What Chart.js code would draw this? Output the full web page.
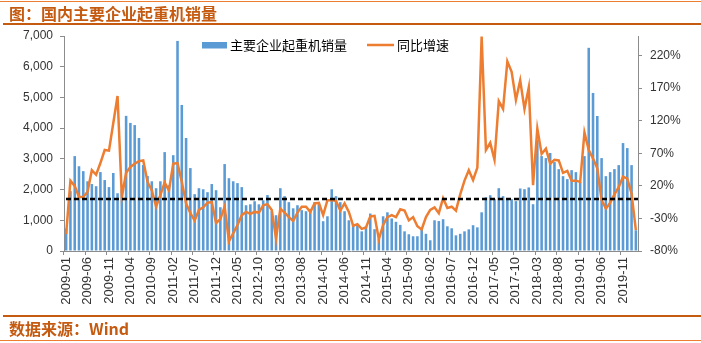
<!DOCTYPE html>
<html lang="zh">
<head>
    <meta charset="UTF-8">
    <title>国内主要企业起重机销量</title>
    <script src="https://cdn.jsdelivr.net/npm/chart.js"></script>
    <style>
        body {
            margin: 0;
            width: 701px;
            height: 343px;
            position: relative;
            overflow: hidden;
            background: #fff;
            font-family: 'Noto Sans CJK SC', sans-serif;
        }
        canvas { position: absolute; left: 0; top: 0; }
        .line-thin { position: absolute; left: 0; width: 701px; height: 1px; background: #ED7D31; }
        .line-thick { position: absolute; left: 3px; width: 698px; height: 2px; background: #C55A11; }
        .caption {
            position: absolute;
            left: 9px;
            font-size: 16px;
            font-weight: bold;
            color: #C55A11;
            line-height: 20px;
            white-space: nowrap;
        }
    </style>
</head>
<body>
    <canvas id="chart" width="701" height="343"></canvas>
    <div class="line-thin" style="top:1px"></div>
    <div class="caption" style="top:3px">图：国内主要企业起重机销量</div>
    <div class="line-thick" style="top:23px"></div>
    <div class="line-thick" style="top:315px"></div>
    <div class="caption" style="top:318px">数据来源：Wind</div>
    <div class="line-thin" style="top:340px"></div>

    <script>
        // 月份（2009-01 至 2020-02）
        const months = [
            '2009-01','2009-02','2009-03','2009-04','2009-05','2009-06','2009-07','2009-08','2009-09','2009-10','2009-11','2009-12',
            '2010-01','2010-02','2010-03','2010-04','2010-05','2010-06','2010-07','2010-08','2010-09','2010-10','2010-11','2010-12',
            '2011-01','2011-02','2011-03','2011-04','2011-05','2011-06','2011-07','2011-08','2011-09','2011-10','2011-11','2011-12',
            '2012-01','2012-02','2012-03','2012-04','2012-05','2012-06','2012-07','2012-08','2012-09','2012-10','2012-11','2012-12',
            '2013-01','2013-02','2013-03','2013-04','2013-05','2013-06','2013-07','2013-08','2013-09','2013-10','2013-11','2013-12',
            '2014-01','2014-02','2014-03','2014-04','2014-05','2014-06','2014-07','2014-08','2014-09','2014-10','2014-11','2014-12',
            '2015-01','2015-02','2015-03','2015-04','2015-05','2015-06','2015-07','2015-08','2015-09','2015-10','2015-11','2015-12',
            '2016-01','2016-02','2016-03','2016-04','2016-05','2016-06','2016-07','2016-08','2016-09','2016-10','2016-11','2016-12',
            '2017-01','2017-02','2017-03','2017-04','2017-05','2017-06','2017-07','2017-08','2017-09','2017-10','2017-11','2017-12',
            '2018-01','2018-02','2018-03','2018-04','2018-05','2018-06','2018-07','2018-08','2018-09','2018-10','2018-11','2018-12',
            '2019-01','2019-02','2019-03','2019-04','2019-05','2019-06','2019-07','2019-08','2019-09','2019-10','2019-11','2019-12',
            '2020-01','2020-02'
        ];

        // x 轴上显示的标签
        const shownLabels = [
            '2009-01','2009-06','2009-11','2010-04','2010-09','2011-02','2011-07','2011-12','2012-05',
            '2012-10','2013-03','2013-08','2014-01','2014-06','2014-11','2015-04','2015-09','2016-02',
            '2016-07','2016-12','2017-05','2017-10','2018-03','2018-08','2019-01','2019-06','2019-11'
        ];

        // 主要企业起重机销量（台）
        const sales = [
            730, 1950, 3090, 2760, 2600, 2270, 2180, 2110, 2570, 2310,
            2080, 2540, 1880, 2000, 4400, 4170, 4100, 3680, 2800, 2440,
            2270, 2045, 2270, 3220, 2140, 3120, 6840, 4755, 3680, 2700,
            1850, 2045, 2010, 1915, 2180, 1980, 1425, 2830, 2370, 2270,
            2210, 2080, 1490, 1520, 1620, 1520, 1650, 1820, 1295, 1165,
            2045, 1785, 1590, 1390, 1490, 1330, 1295, 1360, 1590, 1555,
            970, 1130, 2010, 1785, 1590, 1295, 1000, 860, 840, 640,
            800, 1220, 710, 400, 1130, 1260, 1060, 950, 850, 640,
            545, 480, 480, 750, 560, 350, 1000, 975, 1035, 805,
            740, 510, 560, 640, 705, 840, 770, 1260, 1750, 1815,
            1690, 2045, 1785, 1720, 1686, 1625, 2035, 2013, 2070, 1523,
            3610, 3090, 3025, 3190, 2895, 2665, 2437, 2340, 2633, 2568,
            2241, 3090, 6615, 5146, 4396, 3025, 2437, 2568, 2666, 2796,
            3514, 3351, 2796, 675
        ];

        // 同比增速（%）
        const yoy = [
            -54, 28, 20, 3, 3, 11, 44, 37, 55, 75,
            74, 116, 158, 3, 40, 49, 54, 58, 59, 26,
            13, -12, 6, 25, 13, 54, 55, 26, -7, -22,
            -33, -17, -13, -6, -5, -37, -31, -12, -65, -53,
            -40, -25, -20, -23, -20, -21, -10, -8, -17, -61,
            -15, -21, -28, -34, -21, -12, -12, -20, -7, -6,
            -25, -2, -2, -3, -18, -7, -20, -41, -39, -46,
            -44, -27, -26, -62, -40, -28, -25, -28, -16, -18,
            -33, -28, -42, -47, -28, -17, -13, -22, 1, -14,
            -12, -18, 7, 28, 44, 29, 48, 249, 75, 86,
            60, 150, 138, 211, 195, 152, 182, 138, 171, 21,
            108, 69, 77, 54, 60, 59, 40, 43, 28, 28,
            26, 102, 75, 62, 47, -2, -15, -6, 7, 18,
            34, 31, 8, -48
        ];

        const salesTicks = [0, 1000, 2000, 3000, 4000, 5000, 6000, 7000];
        const yoyTicks = [-80, -30, 20, 70, 120, 170, 220];

        const barColor = '#5B9BD5';
        const lineColor = '#ED7D31';
        const axisColor = '#8C8C8C';
        const tickFont = { family: "'Liberation Sans', Arial, sans-serif", size: 12 };
        const xTickFont = { family: "'Liberation Sans', Arial, sans-serif", size: 13 };

        // 图内图例
        const insideLegend = {
            id: 'insideLegend',
            afterDraw(chart) {
                const ctx = chart.ctx;
                const ds = chart.data.datasets;
                ctx.save();
                ctx.font = "13px 'Noto Sans CJK SC', sans-serif";
                ctx.textBaseline = 'middle';
                ctx.fillStyle = barColor;
                ctx.fillRect(202, 42, 25, 6.5);
                ctx.fillStyle = '#000';
                ctx.fillText(ds[0].label, 230, 45);
                ctx.strokeStyle = lineColor;
                ctx.lineWidth = 2.5;
                ctx.beginPath();
                ctx.moveTo(367, 45);
                ctx.lineTo(394, 45);
                ctx.stroke();
                ctx.fillText(ds[1].label, 397, 45);
                ctx.restore();
            }
        };

        // 0% 虚线
        const zeroLine = {
            id: 'zeroLine',
            afterDatasetsDraw(chart) {
                const ctx = chart.ctx;
                const area = chart.chartArea;
                const y = chart.scales.y1.getPixelForValue(0);
                ctx.save();
                ctx.strokeStyle = '#000';
                ctx.lineWidth = 2.5;
                ctx.setLineDash([5, 3]);
                ctx.beginPath();
                ctx.moveTo(area.left + 2, y);
                ctx.lineTo(area.right, y);
                ctx.stroke();
                ctx.restore();
            }
        };

        new Chart(document.getElementById('chart').getContext('2d'), {
            type: 'bar',
            data: {
                labels: months,
                datasets: [
                    {
                        type: 'bar',
                        label: '主要企业起重机销量',
                        data: sales,
                        backgroundColor: barColor,
                        barPercentage: 0.6,
                        categoryPercentage: 1.0,
                        yAxisID: 'y',
                        order: 2
                    },
                    {
                        type: 'line',
                        label: '同比增速',
                        data: yoy,
                        borderColor: lineColor,
                        borderWidth: 2.5,
                        pointRadius: 0,
                        tension: 0,
                        yAxisID: 'y1',
                        order: 1
                    }
                ]
            },
            options: {
                responsive: false,
                animation: false,
                devicePixelRatio: 1,
                layout: { padding: { top: 36, left: 0, right: 0, bottom: 0 } },
                plugins: {
                    legend: { display: false },
                    tooltip: { enabled: false }
                },
                scales: {
                    x: {
                        grid: {
                            drawOnChartArea: false,
                            tickLength: 4,
                            tickColor: (c) => (c.tick && shownLabels.includes(months[c.index])) ? axisColor : 'rgba(0,0,0,0)'
                        },
                        border: { color: axisColor },
                        ticks: {
                            autoSkip: false,
                            maxRotation: 90,
                            minRotation: 90,
                            padding: 2,
                            color: '#333',
                            font: xTickFont,
                            callback: function (value) {
                                const lab = months[value];
                                return shownLabels.includes(lab) ? lab : '';
                            }
                        },
                        afterFit: (s) => { s.height = 92; }
                    },
                    y: {
                        position: 'left',
                        min: 0,
                        max: 7000,
                        grid: { drawOnChartArea: false, tickLength: 4, tickColor: axisColor },
                        border: { color: axisColor },
                        ticks: {
                            padding: 7,
                            color: '#333',
                            font: tickFont,
                            callback: (v) => v.toLocaleString('en-US')
                        },
                        afterBuildTicks: (s) => { s.ticks = salesTicks.map(v => ({ value: v })); },
                        afterFit: (s) => { s.width = 64; }
                    },
                    y1: {
                        position: 'right',
                        min: -80,
                        max: 250,
                        grid: { drawOnChartArea: false, tickLength: 4, tickColor: axisColor },
                        border: { color: axisColor },
                        ticks: {
                            padding: 8,
                            color: '#333',
                            font: tickFont,
                            callback: (v) => v + '%'
                        },
                        afterBuildTicks: (s) => { s.ticks = yoyTicks.map(v => ({ value: v })); },
                        afterFit: (s) => { s.width = 63; }
                    }
                }
            },
            plugins: [insideLegend, zeroLine]
        });
    </script>
</body>
</html>
